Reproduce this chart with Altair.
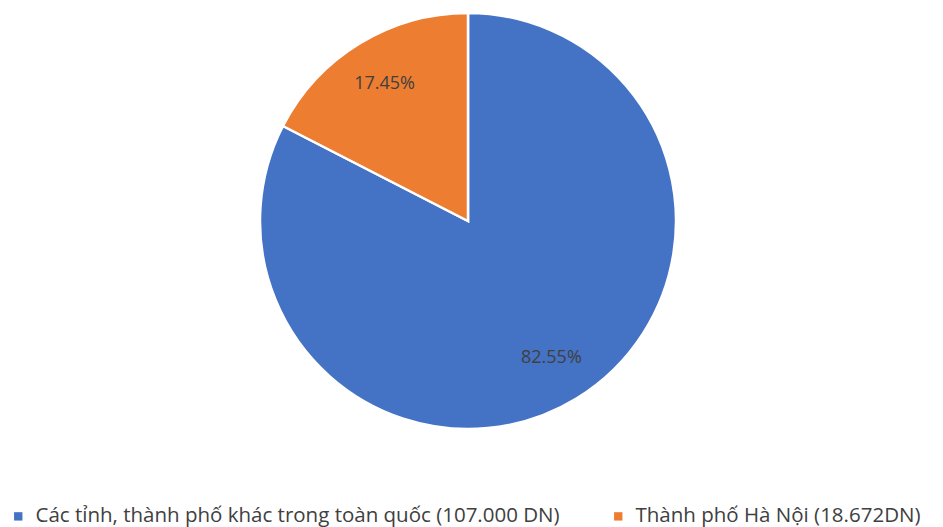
import altair as alt
import pandas as pd

categories = ["Các tỉnh, thành phố khác trong toàn quốc (107.000 DN)", "Thành phố Hà Nội (18.672DN)"]
values = [82.55, 17.45]
labels = ["82.55%", "17.45%"]
order = [0, 1]
colors = ["#4472C4", "#ED7D31"]

df = pd.DataFrame({"cat": categories, "value": values, "label": labels, "order": order})

base = alt.Chart(df).encode(
    theta=alt.Theta("value:Q", stack=True),
    order=alt.Order("order:Q"),
)

arc = base.mark_arc(radius=208, stroke="white", strokeWidth=2.5).encode(
    x=alt.value(460),
    y=alt.value(212),
    color=alt.Color(
        "cat:N",
        scale=alt.Scale(domain=categories, range=colors),
        sort=categories,
        legend=alt.Legend(
            title=None,
            orient="none",
            legendX=0,
            legendY=497,
            padding=0,
            direction="horizontal",
            symbolType="square",
            symbolSize=70,
            symbolStrokeWidth=0,
            labelFont="Open Sans",
            labelFontSize=20.5,
            labelColor="#404040",
            labelLimit=1000,
            columnPadding=48,
            symbolOffset=0,
            labelOffset=7,
        ),
    ),
)

text = base.mark_text(radius=160, font="Open Sans", fontSize=18, color="#404040").encode(
    x=alt.value(460),
    y=alt.value(212),
    text="label:N",
)

chart = (arc + text).properties(
    width=927,
    height=500,
    padding=0,
).configure_view(stroke=None)

chart.save("out.html", embed_options={"renderer": "svg", "actions": False})
